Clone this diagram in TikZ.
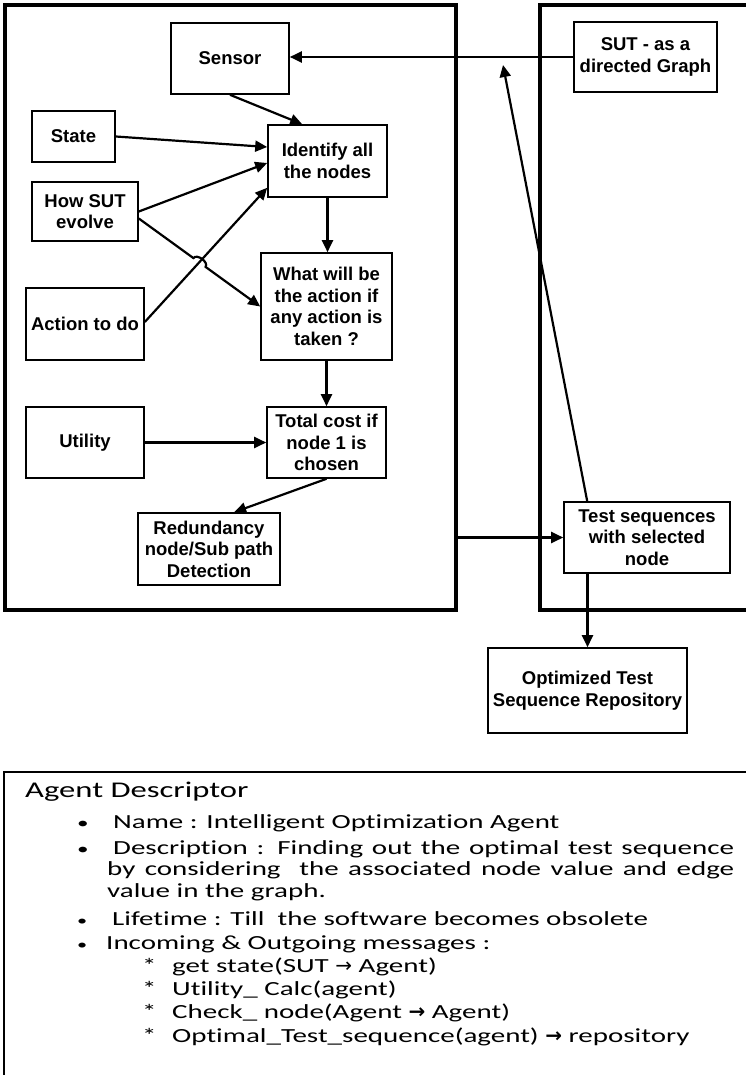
\documentclass[tikz,border=0pt]{standalone}
\usepackage{fontspec}
\usetikzlibrary{arrows.meta,positioning,calc}
\setmainfont{Liberation Sans}
\newfontfamily\descfont{Carlito}[FakeStretch=1.45, Ligatures=NoCommon]
\newfontfamily\symfont{DejaVu Sans}
\newcommand{\thinto}{{\symfont →}}
\newcommand{\boldto}{{\symfont\bfseries →}}

\begin{document}
\begin{tikzpicture}[
    x=1pt, y=-1pt,
    blk/.style={rectangle, draw, line width=1.6pt, align=center, inner sep=2pt,
                font=\fontsize{18.5}{21.5}\selectfont\bfseries},
    frame/.style={draw, line width=3.4pt},
    arr/.style={-{Triangle[length=12pt,width=11pt]}, line width=2.2pt},
    desc/.style={anchor=base west, inner sep=0pt, font=\descfont\fontsize{20}{24}\selectfont}
  ]

  % ---- page ----
  \clip (0,0) rectangle (746,1075);

  % ============ AGENT BOX (left) ============
  \node[frame, minimum width=451pt, minimum height=605pt] (agentbox) at (230.5,307.5) {};

  % environment box on the right, runs off the page
  \draw[frame] (800,5) -| (540,610) -- (800,610);

  % ============ NODES ============
  \node[blk, minimum width=118pt, minimum height=71pt] (sensor) at (230,58.5) {Sensor};
  \node[blk, minimum width=83pt, minimum height=51pt] (state) at (73.5,136.5) {State};
  \node[blk, minimum width=106pt, minimum height=59pt] (how) at (85,211.5) {How SUT\\evolve};
  \node[blk, minimum width=118pt, minimum height=72pt] (action) at (85,324) {Action to do};
  \node[blk, minimum width=118pt, minimum height=71pt] (utility) at (85,442.5) {Utility};

  \node[blk, minimum width=119pt, minimum height=72pt] (ident) at (327.5,161) {Identify all\\the nodes};
  \node[blk, minimum width=131pt, minimum height=107pt] (what) at (326.5,306.5)
    {What will be\\the action if\\any action is\\taken ?};
  \node[blk, minimum width=119pt, minimum height=71pt] (total) at (326.5,442.5)
    {Total cost if\\node 1 is\\chosen};
  \node[blk, minimum width=142pt, minimum height=72pt] (redund) at (209,549)
    {Redundancy\\node/Sub path\\Detection};

  \node[blk, minimum width=143pt, minimum height=70pt] (sut) at (645.5,57) {SUT - as a\\directed Graph};
  \node[blk, minimum width=166pt, minimum height=71pt] (testseq) at (647,537.5)
    {Test sequences\\with selected\\node};
  \node[blk, minimum width=199pt, minimum height=85pt] (repo) at (587.5,690.5)
    {Optimized Test\\Sequence Repository};

  \coordinate (feedback) at (503,65);

  % ============ ARROWS ============
  \draw[arr] (sut.west) -- (sut.west -| sensor.east);
  \draw[arr] ([xshift=24pt]testseq.north west) -- (feedback);

  \draw[arr] (sensor.south) -- ([xshift=35pt]ident.north west);
  \draw[arr] (state.east) -- ([yshift=14pt]ident.west);
  \draw[arr] (how.east) -- ([yshift=-2pt]ident.west);
  \draw[arr] ([yshift=2pt]action.east) -- ([yshift=10pt]ident.south west);

  % How SUT evolve -> action, hopping over the line above
  \draw[arr] ([yshift=-7pt]how.east)
    -- ($([yshift=-7pt]how.east)!0.45!(what.west)$)
    to[out=54.5, in=54.5] ($([yshift=-7pt]how.east)!0.55!(what.west)$)
    -- (what.west);

  \draw[arr] (ident.south) -- (ident.south |- what.north);
  \draw[arr] (what.south) -- (what.south |- total.north);
  \draw[arr] (utility.east) -- (total.west);
  \draw[arr] (total.south) -- ([xshift=97pt]redund.north west);

  \draw[arr] (agentbox.east |- testseq.west) -- (testseq.west);
  \draw[arr] (repo.north |- testseq.south) -- (repo.north);

  % ============ DESCRIPTOR ============
  \draw[line width=2.4pt] (800,772) -| (4,1100);

  \node[desc] (dhead) at (25,797) {\fontsize{22.5}{27}\selectfont Agent Descriptor};

  \node[desc] (bul1) at (77,828) {\fontsize{16}{20}\selectfont\textbullet};
  \node[desc] (dname) at (113,828) {Name : Intelligent Optimization Agent};
  \node[desc] (bul2) at (77,854) {\fontsize{16}{20}\selectfont\textbullet};
  \node[desc] (ddesc) at (113,854)
    {\makebox[621pt][s]{Description : Finding out the optimal test sequence}};
  \node[desc] (ddesc2) at (107,875)
    {\makebox[627pt][s]{by considering \ the associated node value and edge}};
  \node[desc] (ddesc3) at (107,897) {value in the graph.};
  \node[desc] (bul3) at (77,925) {\fontsize{14}{18}\selectfont\textbullet};
  \node[desc] (dlife) at (112,925) {Lifetime : Till \ the software becomes obsolete};
  \node[desc] (bul4) at (77,949) {\fontsize{14}{18}\selectfont\textbullet};
  \node[desc] (dmsg) at (106,949) {Incoming \& Outgoing messages :};

  \node[desc] (ast1) at (142,972) {*};
  \node[desc] (msg1) at (172,972) {get state(SUT \thinto\ Agent)};
  \node[desc] (ast2) at (142,995) {*};
  \node[desc] (msg2) at (172,995) {Utility\_ Calc(agent)};
  \node[desc] (ast3) at (142,1018) {*};
  \node[desc] (msg3) at (172,1018) {Check\_ node(Agent \boldto\ Agent)};
  \node[desc] (ast4) at (142,1042) {*};
  \node[desc] (msg4) at (172,1042) {Optimal\_Test\_sequence(agent) \boldto\ repository};

\end{tikzpicture}
\end{document}
